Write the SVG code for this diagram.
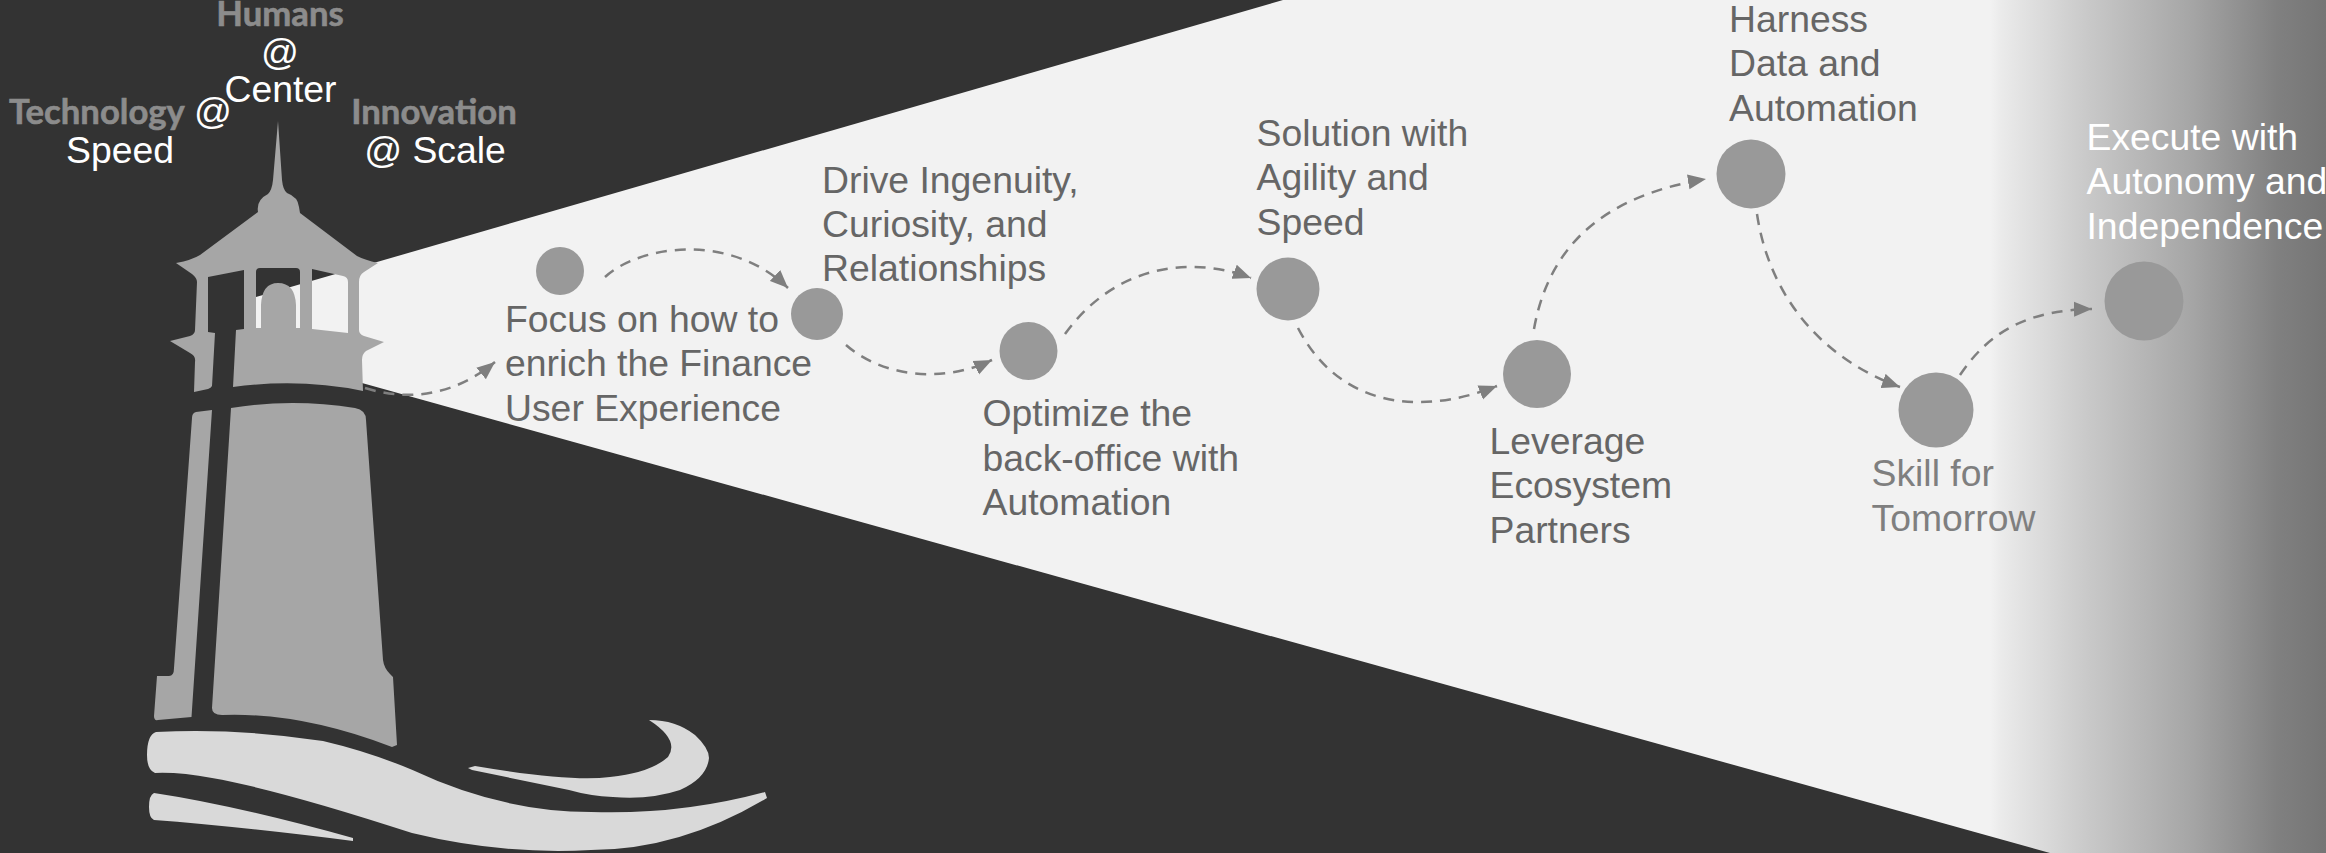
<svg xmlns="http://www.w3.org/2000/svg" width="2326" height="853" viewBox="0 0 2326 853">
<style>
.t{font-family:"Liberation Sans",Arial,sans-serif;font-size:37.33px;fill:#666}
.w{fill:#fff}
.g{fill:#7f7f7f}
.b{font-family:Lato,"Open Sans",sans-serif;font-weight:700;font-size:34.67px;fill:#8c8c8c;stroke:#8c8c8c;stroke-width:.6}
.m{text-anchor:middle}
.n{fill:#999}
.tower{fill:#a6a6a6}
.wave{fill:#d9d9d9}
.c{fill:none;stroke:#7f7f7f;stroke-width:2.5;stroke-dasharray:11 8;marker-end:url(#ah)}
</style>
<defs>
<linearGradient id="beamg" gradientUnits="userSpaceOnUse" x1="0" y1="0" x2="2326" y2="0">
<stop offset="0" stop-color="#f2f2f2"/>
<stop offset="0.8555" stop-color="#f2f2f2"/>
<stop offset="0.86" stop-color="#ebebeb"/>
<stop offset="0.8985" stop-color="#c8c8c8"/>
<stop offset="0.9428" stop-color="#a5a5a5"/>
<stop offset="0.979" stop-color="#808080"/>
<stop offset="1" stop-color="#757575"/>
</linearGradient>
<marker id="ah" markerUnits="userSpaceOnUse" markerWidth="20" markerHeight="16" refX="18" refY="8" orient="auto">
<path d="M0,0.500 L18,8 L0,15.500 Z" fill="#7f7f7f"/>
</marker>
</defs>
<rect id="background" width="2326" height="853" fill="#333333"/>
<polygon id="beam" points="256,297 1283,0 2326,0 2326,853 2050,853 362,383 256,350" fill="url(#beamg)"/>
<g id="lighthouse">
<path class="tower" fill-rule="evenodd" d="M278,121 L282,180 Q283,190 287,193 Q298,197 299,207 L300,213 L357,256 Q365,260 378,263 L364,272 Q359,275 359,282 L359,330 Q359,334 364,336 L384,342 L366,351 Q362,354 362,360 L363,391 Q300,378 233,387 L236,330 L244,329 L244,270 L208,277 L208,332 L215,333 L212,386 Q211,388 208,389 L194,392 L195,362 Q196,356 190,353 L170,341 L190,336 Q195,334 195,330 L197,282 Q197,278 192,274 L176,263 Q192,260 200,255 L258,212 Q256,200 268,194 Q272,190 273,180 Z M256,272 Q256,268 260,268 L296,268 Q300,268 300,272 L300,328 L296,328 L296,305 Q295,283 278,283 Q262,283 261,305 L261,328 L256,328 Z M312,269 L343,276 Q348,277 348,282 L348,333 L312,329 Z"/>
<path class="tower" d="M231,408 Q292,398 355,408 Q366,410 366,420 L383,660 Q384,668 390,674 L393,677 L397,745 L392,747 Q301,712 222,715 Q212,715 212,708 Z"/>
<path class="tower" d="M212,410 L196,412 Q192,413 192,418 L174,668 Q174,676 169,676 L157,676 L154,716 Q154,721 158,720 L191.500,717 Z"/>
<path class="wave" d="M156,732 Q240,728 323,741 Q370,752 412.500,770 Q502,812 591,812 Q680,815 765,792 L767,798 Q680,850 591,850 Q502,855 412,833 Q280,790 212,778 Q180,772 155,773 Q147,770 147,755 Q147,735 156,732 Z"/>
<path class="wave" d="M154,793 Q234,805 353,838 L353,841 Q234,826 154,820 Q149,818 149,807 Q149,795 154,793 Z"/>
<path class="wave" d="M649,720 Q676,720 695,735 Q709,748 709,758 Q707,778 680,790 Q650,800 613,797 Q590,796 569,790 L472,770 L468,768 L475,766 Q569,782 610,777 Q650,773 668,757 Q680,740 649,720 Z"/>
</g>
<g id="connectors">
<path class="c" d="M365,388 C410,402 455,395 495,362"/>
<path class="c" d="M605,277 C640,245 730,232 788,288"/>
<path class="c" d="M846,345 C880,375 940,385 992,360"/>
<path class="c" d="M1065,334 C1115,265 1190,255 1251,278"/>
<path class="c" d="M1298,328 C1335,400 1410,420 1497,386"/>
<path class="c" d="M1534,329 C1550,240 1610,195 1706,179"/>
<path class="c" d="M1757,214 C1770,300 1825,360 1900,387"/>
<path class="c" d="M1960,375 C1990,330 2030,310 2092,309"/>
</g>
<g id="humans-label"><text class="b m" x="280" y="26">Humans</text><text class="t w m" x="280" y="65">@</text><text class="t w m" x="280.500" y="102">Center</text></g>
<g id="technology-label"><text class="b" x="9" y="124">Technology</text><text class="t w" x="194" y="124">@</text><text class="t w m" x="120" y="163">Speed</text></g>
<g id="innovation-label"><text class="b m" x="434" y="124">Innovation</text><text class="t w m" x="435" y="163">@ Scale</text></g>
<g id="node-1"><circle class="n" cx="560" cy="271" r="24"/><text class="t"><tspan x="505" y="332">Focus on how to</tspan><tspan x="505" y="376">enrich the Finance</tspan><tspan x="505" y="421">User Experience</tspan></text></g>
<g id="node-2"><circle class="n" cx="817" cy="314" r="26"/><text class="t"><tspan x="822" y="193">Drive Ingenuity,</tspan><tspan x="822" y="237">Curiosity, and</tspan><tspan x="822" y="281">Relationships</tspan></text></g>
<g id="node-3"><circle class="n" cx="1028.500" cy="351" r="29"/><text class="t"><tspan x="982.500" y="426">Optimize the</tspan><tspan x="982.500" y="471">back-office with</tspan><tspan x="982.500" y="515">Automation</tspan></text></g>
<g id="node-4"><circle class="n" cx="1288" cy="289" r="31.500"/><text class="t"><tspan x="1256.500" y="146">Solution with</tspan><tspan x="1256.500" y="190">Agility and</tspan><tspan x="1256.500" y="235">Speed</tspan></text></g>
<g id="node-5"><circle class="n" cx="1537" cy="374" r="34"/><text class="t"><tspan x="1489.500" y="454">Leverage</tspan><tspan x="1489.500" y="498">Ecosystem</tspan><tspan x="1489.500" y="543">Partners</tspan></text></g>
<g id="node-6"><circle class="n" cx="1751" cy="174" r="34.500"/><text class="t"><tspan x="1729" y="32">Harness</tspan><tspan x="1729" y="76">Data and</tspan><tspan x="1729" y="121">Automation</tspan></text></g>
<g id="node-7"><circle class="n" cx="1936" cy="410" r="37.500"/><text class="t g"><tspan x="1871.500" y="486">Skill for</tspan><tspan x="1871.500" y="531">Tomorrow</tspan></text></g>
<g id="node-8"><circle class="n" cx="2144" cy="301" r="39.500"/><text class="t w"><tspan x="2086.500" y="150">Execute with</tspan><tspan x="2086.500" y="194">Autonomy and</tspan><tspan x="2086.500" y="239">Independence</tspan></text></g>
</svg>
